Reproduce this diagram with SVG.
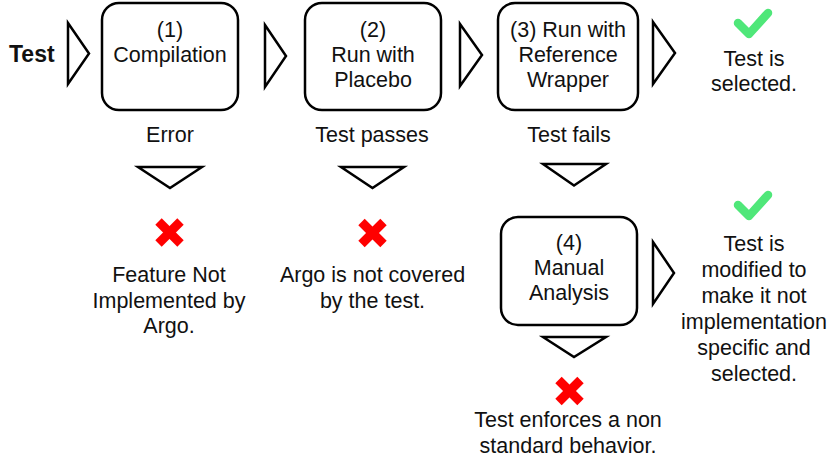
<svg xmlns="http://www.w3.org/2000/svg" width="830" height="463" viewBox="0 0 830 463">
<style>
text{font-family:"Liberation Sans",Arial,sans-serif;font-size:21.5px;fill:#111;text-anchor:middle}
.bold{font-weight:bold;font-size:23px;text-anchor:start}
.box{fill:#fff;stroke:#000;stroke-width:2.5}
.tri{fill:#fff;stroke:#000;stroke-width:2.5;stroke-linejoin:miter}
.chk{fill:none;stroke:#4fe779;stroke-width:8.5;stroke-linecap:round;stroke-linejoin:round}
.x{stroke:#ff0000;stroke-width:9}
</style>
<rect width="830" height="463" fill="#fff"/>
<g id="start"><text class="bold" x="9" y="62">Test</text></g>
<g id="connectors">
<polygon class="tri" points="68,23 89,53.5 68,84"/>
<polygon class="tri" points="265,25 286,56 265,87"/>
<polygon class="tri" points="460,24 482,55 460,86"/>
<polygon class="tri" points="653,22 675,53 653,84"/>
<polygon class="tri" points="653,242 674,273 653,304"/>
<polygon class="tri" points="138,167 202,167 170,188"/>
<polygon class="tri" points="341,167 404,167 372.5,188"/>
<polygon class="tri" points="543,164 606,164 574,185.5"/>
<polygon class="tri" points="543,337 606,337 574,357"/>
</g>
<g id="n1">
<rect class="box" x="102" y="3" width="136" height="107" rx="17"/>
<text x="170" y="37">(1)</text>
<text x="170" y="62">Compilation</text>
</g>
<g id="n2">
<rect class="box" x="305" y="3" width="136" height="107" rx="17"/>
<text x="373" y="37">(2)</text>
<text x="373" y="62">Run with</text>
<text x="373" y="87">Placebo</text>
</g>
<g id="n3">
<rect class="box" x="498" y="3" width="140" height="107" rx="17"/>
<text x="568" y="37">(3) Run with</text>
<text x="568" y="62">Reference</text>
<text x="568" y="87">Wrapper</text>
</g>
<g id="n4">
<rect class="box" x="501" y="217" width="136" height="108" rx="17"/>
<text x="569" y="250">(4)</text>
<text x="569" y="275">Manual</text>
<text x="569" y="300">Analysis</text>
</g>
<g id="labels">
<text x="170" y="142">Error</text>
<text x="372" y="142">Test passes</text>
<text x="569" y="142">Test fails</text>
</g>
<g id="selected1">
<polyline class="chk" points="738,23 749,34 768,13"/>
<text x="754" y="66">Test is</text>
<text x="754" y="91">selected.</text>
</g>
<g id="fail1">
<line class="x" x1="158.5" y1="221.5" x2="180.5" y2="243.5"/>
<line class="x" x1="180.5" y1="221.5" x2="158.5" y2="243.5"/>
<text x="169" y="282">Feature Not</text>
<text x="169" y="307.5">Implemented by</text>
<text x="169" y="333">Argo.</text>
</g>
<g id="fail2">
<line class="x" x1="361.5" y1="222" x2="383.5" y2="244"/>
<line class="x" x1="383.5" y1="222" x2="361.5" y2="244"/>
<text x="372.5" y="282">Argo is not covered</text>
<text x="372.5" y="307.5">by the test.</text>
</g>
<g id="selected2">
<polyline class="chk" points="738,205 749,216 768,195"/>
<text x="754" y="251">Test is</text>
<text x="754" y="277">modified to</text>
<text x="754" y="303">make it not</text>
<text x="754" y="329">implementation</text>
<text x="754" y="355">specific and</text>
<text x="754" y="381">selected.</text>
</g>
<g id="fail3">
<line class="x" x1="558.5" y1="380" x2="580.5" y2="402"/>
<line class="x" x1="580.5" y1="380" x2="558.5" y2="402"/>
<text x="568" y="427">Test enforces a non</text>
<text x="568" y="453">standard behavior.</text>
</g>
</svg>
